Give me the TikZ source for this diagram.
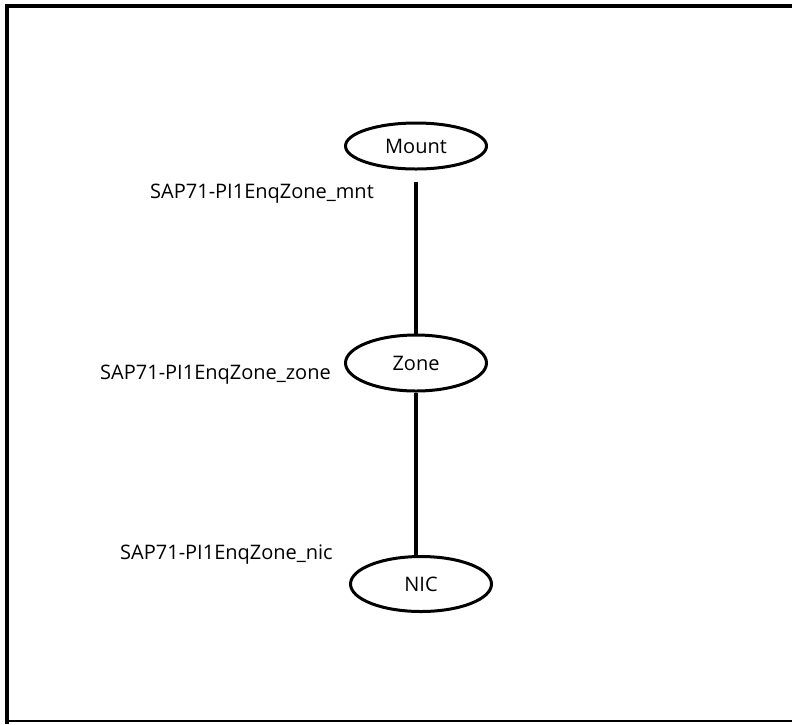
\documentclass[tikz,border=0pt]{standalone}
\usepackage{fontspec}
\setmainfont{Open Sans}
\usetikzlibrary{shapes.geometric}
\usetikzlibrary{positioning}

\begin{document}
\begin{tikzpicture}[x=1pt, y=-1pt,
    every node/.style={font=\fontsize{20}{24}\selectfont},
    resource/.style={ellipse, draw=black, line width=3pt, minimum width=141pt, minimum height=50pt, inner sep=0pt},
    reslabel/.style={anchor=base west, inner sep=0pt},
    link/.style={line width=4pt}]

    \useasboundingbox (0,0) rectangle (792,724);

    % frame
    \draw[line width=4pt] (7,724) -- (7,6) -- (792,6);
    \draw[line width=2pt] (7,721) -- (792,721);

    \node[resource, minimum height=46pt] (mount) at (416,146) {Mount};
    \node[resource, minimum height=56pt] (zone) at (416,363) {Zone};
    \node[resource, minimum height=55pt] (nic) at (421,584) {NIC};

    \node[reslabel] (mntlabel) at (150,198) {SAP71-PI1EnqZone\_mnt};
    \node[reslabel] (zonelabel) at (100,379) {SAP71-PI1EnqZone\_zone};
    \node[reslabel] (niclabel) at (120,559) {SAP71-PI1EnqZone\_nic};

    \coordinate (mntgap) at ([yshift=-11pt]mount.south);
    \draw[link] (mntgap) -- (zone.north);
    \draw[link] (zone.south) -- (zone.south |- nic.north);

\end{tikzpicture}
\end{document}
